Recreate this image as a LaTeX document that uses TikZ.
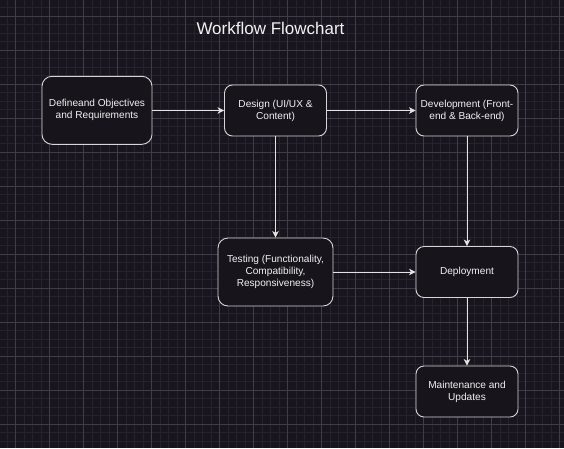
\documentclass[tikz,border=0pt]{standalone}
\usepackage{fontspec}
\setmainfont{Liberation Sans}
\usetikzlibrary{arrows.meta}
\definecolor{bg}{HTML}{18151E}
\definecolor{boxfill}{HTML}{17141C}
\definecolor{boxline}{HTML}{D6D6D6}
\definecolor{arrowc}{HTML}{E4E4E4}
\definecolor{txt}{HTML}{F2F2F2}
\definecolor{minorgrid}{HTML}{26232C}
\definecolor{majorgrid}{HTML}{403D46}
\begin{document}
\begin{tikzpicture}[x=1pt,y=-1pt,
  stepbox/.style={draw=boxline, fill=boxfill, rounded corners=8pt, line width=0.9pt,
    text=txt, font=\fontsize{10.1}{12}\selectfont, align=center, inner sep=0pt,
    minimum width=102pt, minimum height=51pt},
  bigbox/.style={stepbox, rounded corners=10pt},
  conn/.style={draw=arrowc, line width=0.9pt, -{Stealth[length=6.5pt,width=6.5pt,inset=1.8pt]}}]
\fill[bg] (0,0) rectangle (564,448);
\useasboundingbox (0,0) rectangle (564,448);
\foreach \i in {0,...,65} { \draw[minorgrid, line width=0.55pt] ({7+8.5*\i},0) -- ({7+8.5*\i},448); }
\foreach \i in {0,...,51} { \draw[minorgrid, line width=0.55pt] (0,{7.5+8.5*\i}) -- (564,{7.5+8.5*\i}); }
\foreach \i in {0,...,16} { \draw[majorgrid, line width=0.7pt] ({15.5+34*\i},0) -- ({15.5+34*\i},448); }
\foreach \i in {0,...,12} { \draw[majorgrid, line width=0.7pt] (0,{16+34*\i}) -- (564,{16+34*\i}); }

\node[anchor=base, text=txt, font=\fontsize{17}{20}\selectfont, inner sep=0pt] (title) at (270.5,34) {Workflow Flowchart};

\node[bigbox, minimum width=110pt, minimum height=68pt] (define) at (97,110.3) {Defineand Objectives\\and Requirements};
\node[stepbox] (design) at (275.5,110.5) {Design (UI/UX \&\\Content)};
\node[stepbox] (dev) at (467,110.5) {Development (Front-\\end \& Back-end)};
\node[bigbox, minimum width=115pt, minimum height=68pt] (test) at (275.5,272) {Testing (Functionality,\\Compatibility,\\Responsiveness)};
\node[stepbox] (deploy) at (467,272) {Deployment};
\node[stepbox] (maint) at (467,391.5) {Maintenance and\\Updates};

\draw[conn] (define.east |- design.west) -- (design.west);
\draw[conn] (design.east) -- (dev.west);
\draw[conn] (design.south) -- (test.north);
\draw[conn] (dev.south) -- (deploy.north);
\draw[conn] (test.east |- deploy.west) -- (deploy.west);
\draw[conn] (deploy.south) -- (maint.north);
\end{tikzpicture}
\end{document}
